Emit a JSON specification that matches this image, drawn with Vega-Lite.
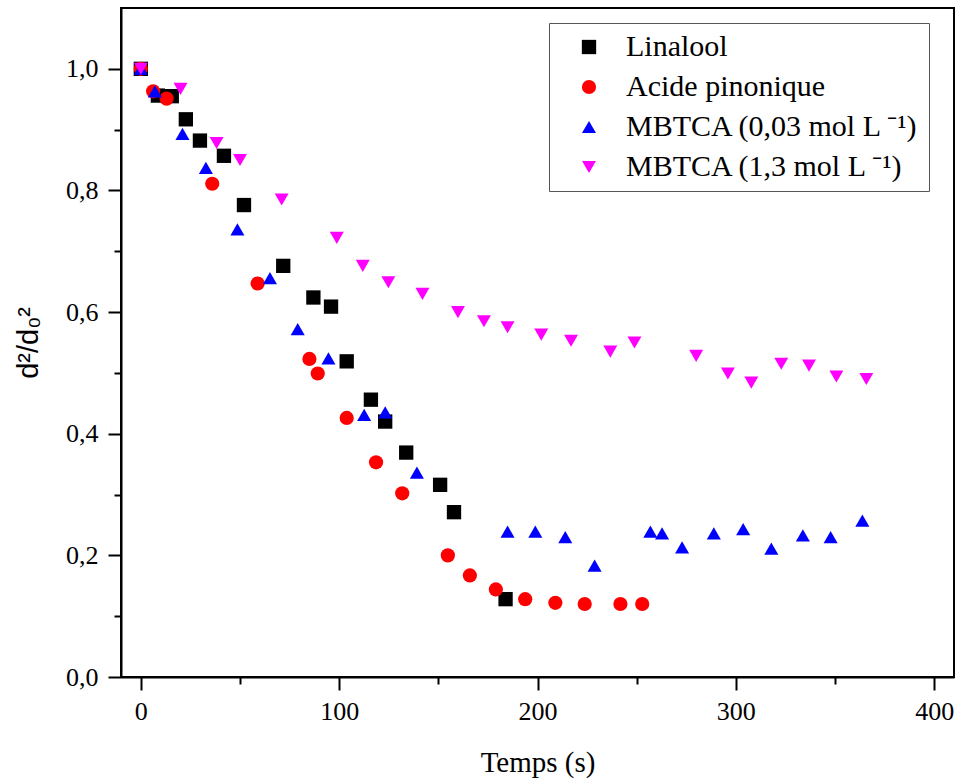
{
  "$schema": "https://vega.github.io/schema/vega-lite/v6.json",
  "autosize": {"type": "none"},
  "width": 833,
  "height": 669,
  "padding": {"left": 121, "top": 8, "right": 3, "bottom": 103},
  "background": "white",
  "config": {
    "view": {"stroke": "black", "strokeWidth": 2},
    "axis": {
      "grid": false,
      "domainColor": "black",
      "domainWidth": 2,
      "tickColor": "black",
      "tickWidth": 2,
      "labelFont": "Liberation Serif",
      "labelFontSize": 26,
      "labelColor": "black",
      "titleColor": "black",
      "titleFontWeight": "normal"
    }
  },
  "data": {
    "values": [
      {"s": "Linalool", "t": 0, "v": 1.0},
      {"s": "Linalool", "t": 8.6, "v": 0.956},
      {"s": "Linalool", "t": 15.6, "v": 0.955},
      {"s": "Linalool", "t": 22.7, "v": 0.917},
      {"s": "Linalool", "t": 29.8, "v": 0.882},
      {"s": "Linalool", "t": 41.9, "v": 0.857},
      {"s": "Linalool", "t": 52, "v": 0.776},
      {"s": "Linalool", "t": 71.8, "v": 0.676},
      {"s": "Linalool", "t": 87, "v": 0.624},
      {"s": "Linalool", "t": 95.9, "v": 0.609},
      {"s": "Linalool", "t": 103.8, "v": 0.519},
      {"s": "Linalool", "t": 116, "v": 0.456},
      {"s": "Linalool", "t": 123.2, "v": 0.42},
      {"s": "Linalool", "t": 133.8, "v": 0.369},
      {"s": "Linalool", "t": 150.9, "v": 0.316},
      {"s": "Linalool", "t": 157.9, "v": 0.271},
      {"s": "Linalool", "t": 183.9, "v": 0.128},
      {"s": "Acide pinonique", "t": 0, "v": 1.0},
      {"s": "Acide pinonique", "t": 6.2, "v": 0.963},
      {"s": "Acide pinonique", "t": 13, "v": 0.951},
      {"s": "Acide pinonique", "t": 36, "v": 0.811},
      {"s": "Acide pinonique", "t": 58.9, "v": 0.647},
      {"s": "Acide pinonique", "t": 85, "v": 0.523},
      {"s": "Acide pinonique", "t": 89.2, "v": 0.499},
      {"s": "Acide pinonique", "t": 103.8, "v": 0.426},
      {"s": "Acide pinonique", "t": 118.6, "v": 0.353},
      {"s": "Acide pinonique", "t": 131.8, "v": 0.302},
      {"s": "Acide pinonique", "t": 154.8, "v": 0.2},
      {"s": "Acide pinonique", "t": 165.9, "v": 0.167},
      {"s": "Acide pinonique", "t": 179, "v": 0.144},
      {"s": "Acide pinonique", "t": 193.8, "v": 0.128},
      {"s": "Acide pinonique", "t": 209, "v": 0.122},
      {"s": "Acide pinonique", "t": 223.8, "v": 0.12},
      {"s": "Acide pinonique", "t": 241.8, "v": 0.12},
      {"s": "Acide pinonique", "t": 252.8, "v": 0.12},
      {"s": "MBTCA (0,03 mol L ⁻¹)", "t": 0, "v": 1.0},
      {"s": "MBTCA (0,03 mol L ⁻¹)", "t": 7.1, "v": 0.963},
      {"s": "MBTCA (0,03 mol L ⁻¹)", "t": 21, "v": 0.893},
      {"s": "MBTCA (0,03 mol L ⁻¹)", "t": 32.8, "v": 0.837},
      {"s": "MBTCA (0,03 mol L ⁻¹)", "t": 48.7, "v": 0.736},
      {"s": "MBTCA (0,03 mol L ⁻¹)", "t": 65.1, "v": 0.656},
      {"s": "MBTCA (0,03 mol L ⁻¹)", "t": 79.1, "v": 0.572},
      {"s": "MBTCA (0,03 mol L ⁻¹)", "t": 94.6, "v": 0.524},
      {"s": "MBTCA (0,03 mol L ⁻¹)", "t": 112.6, "v": 0.431},
      {"s": "MBTCA (0,03 mol L ⁻¹)", "t": 123.2, "v": 0.435},
      {"s": "MBTCA (0,03 mol L ⁻¹)", "t": 139.2, "v": 0.336},
      {"s": "MBTCA (0,03 mol L ⁻¹)", "t": 184.9, "v": 0.239},
      {"s": "MBTCA (0,03 mol L ⁻¹)", "t": 198.9, "v": 0.239},
      {"s": "MBTCA (0,03 mol L ⁻¹)", "t": 214, "v": 0.23},
      {"s": "MBTCA (0,03 mol L ⁻¹)", "t": 228.8, "v": 0.183},
      {"s": "MBTCA (0,03 mol L ⁻¹)", "t": 256.9, "v": 0.239},
      {"s": "MBTCA (0,03 mol L ⁻¹)", "t": 262.8, "v": 0.236},
      {"s": "MBTCA (0,03 mol L ⁻¹)", "t": 272.9, "v": 0.213},
      {"s": "MBTCA (0,03 mol L ⁻¹)", "t": 288.9, "v": 0.236},
      {"s": "MBTCA (0,03 mol L ⁻¹)", "t": 303.7, "v": 0.243},
      {"s": "MBTCA (0,03 mol L ⁻¹)", "t": 317.9, "v": 0.211},
      {"s": "MBTCA (0,03 mol L ⁻¹)", "t": 333.8, "v": 0.233},
      {"s": "MBTCA (0,03 mol L ⁻¹)", "t": 347.8, "v": 0.23},
      {"s": "MBTCA (0,03 mol L ⁻¹)", "t": 363.8, "v": 0.257},
      {"s": "MBTCA (1,3 mol L ⁻¹)", "t": 0, "v": 1.0},
      {"s": "MBTCA (1,3 mol L ⁻¹)", "t": 20, "v": 0.967},
      {"s": "MBTCA (1,3 mol L ⁻¹)", "t": 38.2, "v": 0.878},
      {"s": "MBTCA (1,3 mol L ⁻¹)", "t": 50, "v": 0.85},
      {"s": "MBTCA (1,3 mol L ⁻¹)", "t": 71, "v": 0.785},
      {"s": "MBTCA (1,3 mol L ⁻¹)", "t": 98.8, "v": 0.722},
      {"s": "MBTCA (1,3 mol L ⁻¹)", "t": 111.9, "v": 0.676},
      {"s": "MBTCA (1,3 mol L ⁻¹)", "t": 124.8, "v": 0.649},
      {"s": "MBTCA (1,3 mol L ⁻¹)", "t": 142, "v": 0.63},
      {"s": "MBTCA (1,3 mol L ⁻¹)", "t": 159.9, "v": 0.6},
      {"s": "MBTCA (1,3 mol L ⁻¹)", "t": 173, "v": 0.585},
      {"s": "MBTCA (1,3 mol L ⁻¹)", "t": 184.9, "v": 0.575},
      {"s": "MBTCA (1,3 mol L ⁻¹)", "t": 201.9, "v": 0.563},
      {"s": "MBTCA (1,3 mol L ⁻¹)", "t": 216.9, "v": 0.553},
      {"s": "MBTCA (1,3 mol L ⁻¹)", "t": 236.7, "v": 0.535},
      {"s": "MBTCA (1,3 mol L ⁻¹)", "t": 248.9, "v": 0.55},
      {"s": "MBTCA (1,3 mol L ⁻¹)", "t": 280, "v": 0.528},
      {"s": "MBTCA (1,3 mol L ⁻¹)", "t": 296, "v": 0.499},
      {"s": "MBTCA (1,3 mol L ⁻¹)", "t": 307.8, "v": 0.484},
      {"s": "MBTCA (1,3 mol L ⁻¹)", "t": 322.9, "v": 0.515},
      {"s": "MBTCA (1,3 mol L ⁻¹)", "t": 336.9, "v": 0.512},
      {"s": "MBTCA (1,3 mol L ⁻¹)", "t": 350.7, "v": 0.494},
      {"s": "MBTCA (1,3 mol L ⁻¹)", "t": 365.8, "v": 0.49}
    ]
  },
  "mark": {"type": "point", "filled": true, "opacity": 1},
  "encoding": {
    "x": {
      "field": "t",
      "type": "quantitative",
      "scale": {"domain": [-10, 410], "nice": false, "zero": false},
      "axis": {
        "title": "Temps (s)",
        "titleFont": "Liberation Serif",
        "titleFontSize": 29,
        "titlePadding": 24,
        "values": [0, 50, 100, 150, 200, 250, 300, 350, 400],
        "labelExpr": "datum.value % 100 == 0 ? datum.label : ''",
        "labelPadding": 8,
        "tickSize": {"condition": {"test": "datum.value % 100 != 0", "value": 7}, "value": 13}
      }
    },
    "y": {
      "field": "v",
      "type": "quantitative",
      "scale": {"domain": [0, 1.1], "nice": false, "zero": false},
      "axis": {
        "title": "d²/d₀²",
        "titleFont": "Liberation Sans",
        "titleFontSize": 29,
        "titlePadding": 22,
        "values": [0, 0.1, 0.2, 0.3, 0.4, 0.5, 0.6, 0.7, 0.8, 0.9, 1.0],
        "labelExpr": "round(datum.value*10) % 2 == 0 ? replace(format(datum.value, '.1f'), '.', ',') : ''",
        "labelPadding": 10,
        "tickSize": {"condition": {"test": "round(datum.value*10) % 2 == 1", "value": 7}, "value": 13}
      }
    },
    "color": {
      "field": "s",
      "type": "nominal",
      "scale": {
        "domain": ["Linalool", "Acide pinonique", "MBTCA (0,03 mol L ⁻¹)", "MBTCA (1,3 mol L ⁻¹)"],
        "range": ["#000000", "#ff0000", "#0000ff", "#ff00ff"]
      },
      "legend": {
        "title": null,
        "orient": "none",
        "legendX": 428,
        "legendY": 15,
        "strokeColor": "#555555",
        "fillColor": "white",
        "padding": 9,
        "symbolOffset": 16,
        "labelOffset": 22,
        "labelFont": "Liberation Serif",
        "labelFontSize": 30,
        "labelColor": "black",
        "labelLimit": 400,
        "symbolSize": 130,
        "rowPadding": 10
      }
    },
    "shape": {
      "field": "s",
      "type": "nominal",
      "scale": {
        "domain": ["Linalool", "Acide pinonique", "MBTCA (0,03 mol L ⁻¹)", "MBTCA (1,3 mol L ⁻¹)"],
        "range": ["square", "circle", "triangle-up", "triangle-down"]
      }
    },
    "size": {
      "field": "s",
      "type": "nominal",
      "scale": {
        "domain": ["Linalool", "Acide pinonique", "MBTCA (0,03 mol L ⁻¹)", "MBTCA (1,3 mol L ⁻¹)"],
        "range": [205, 195, 330, 330]
      },
      "legend": null
    }
  }
}
